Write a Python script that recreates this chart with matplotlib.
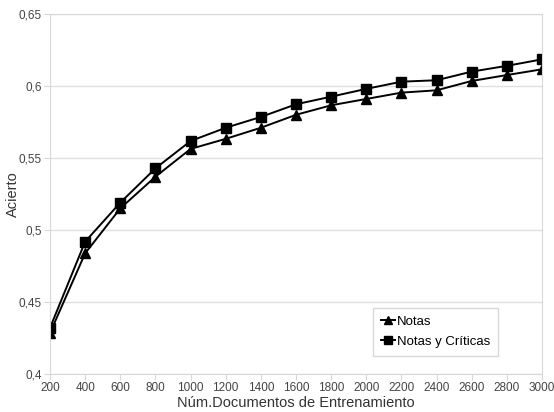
import numpy as np
import matplotlib.pyplot as plt

plt.rc('font', family=['Liberation Sans', 'DejaVu Sans'], size=8)

docs = [200, 400, 600, 800, 1000, 1200, 1400, 1600, 1800, 2000, 2200, 2400, 2600, 2800, 3000]
notas = [0.4285, 0.4838, 0.515, 0.537, 0.5563, 0.5633, 0.571, 0.580, 0.5866, 0.591,
         0.5954, 0.597, 0.6035, 0.6076, 0.6116]
notas_criticas = [0.432, 0.4919, 0.519, 0.5428, 0.5618, 0.571, 0.5785, 0.5873, 0.5926, 0.598,
                  0.603, 0.604, 0.610, 0.614, 0.6185]
yticks = [0.4, 0.45, 0.5, 0.55, 0.6, 0.65]
ytick_labels = ['0,4', '0,45', '0,5', '0,55', '0,6', '0,65']

fig = plt.figure(figsize=(5.54, 4.12), dpi=100)
ax = fig.add_axes([50/554, 1-374/412, 492/554, 360/412])

ax.plot(docs, notas, color='black', marker='^', markersize=7, linewidth=1.4, label='Notas')
ax.plot(docs, notas_criticas, color='black', marker='s', markersize=7, linewidth=1.4,
        label='Notas y Críticas')

ax.set_xlim(200, 3000)
ax.set_ylim(0.4, 0.65)
ax.set_xticks(docs)
ax.set_yticks(yticks)
ax.set_yticklabels(ytick_labels)
ax.grid(axis='y', color='#e0e0e0', linewidth=1)
ax.set_axisbelow(True)
for s in ax.spines.values():
    s.set_color('#d8d8d8')
ax.tick_params(colors='#d8d8d8', labelcolor='#444444', labelsize=8.5, length=4, pad=2)

ax.set_xlabel('Núm.Documentos de Entrenamiento', fontsize=10.5, color='#333333', labelpad=1)
ax.set_ylabel('Acierto', fontsize=10.5, color='#333333')
ax.yaxis.set_label_coords(-30/492, 0.5)

leg = ax.legend(loc='lower right', bbox_to_anchor=(0.91, 0.05), fontsize=9.5,
                fancybox=False, framealpha=1, handlelength=1.1, handletextpad=0.1,
                markerscale=0.75, borderpad=0.6, labelspacing=0.6, borderaxespad=0)
leg.get_frame().set_edgecolor('#d8d8d8')

fig.savefig('out.png', dpi=100)
